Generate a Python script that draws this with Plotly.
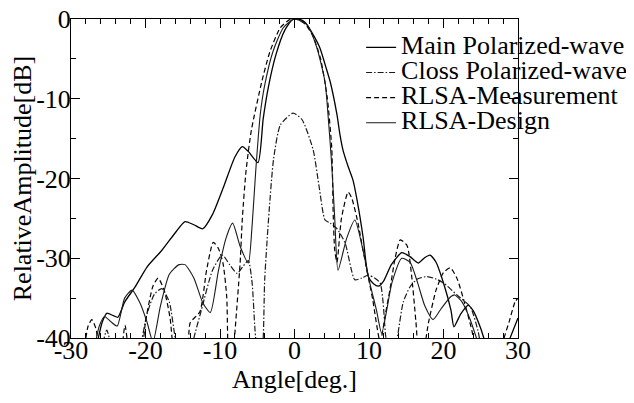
import plotly.graph_objects as go

# ---- data ----
main_x = [-26.8, -25.8, -25.2, -24.3, -23.7, -22.8, -21.4, -19.8, -17.8, -16.0,
          -14.7, -13.5, -12.3, -11.0, -9.5, -8.0, -7.0, -6.2, -4.9, -4.2,
          -3.5, -2.5, -1.3, -0.3, 0.5, 1.4, 2.4, 3.4, 4.2, 4.8,
          5.7, 6.1, 6.5, 7.2, 7.85, 8.4, 9.2, 9.9, 10.6, 11.3,
          12.0, 13.0, 14.4, 15.5, 16.6, 17.5, 18.2, 19.0, 20.0, 21.0,
          21.4, 22.3, 23.3, 24.0, 25.0, 25.6, 26.5, 27.5, 28.5, 30.0]
main_y = [-42, -38, -36.9, -37.2, -37.4, -35.5, -33.6, -31.1, -29.0, -26.8,
          -25.4, -25.8, -26.3, -24.5, -21.0, -17.3, -16.0, -16.6, -18.0, -12.5,
          -8.5, -4.5, -1.4, -0.1, 0.0, -0.4, -1.8, -3.6, -6.0, -7.9,
          -12.0, -14.5, -16.4, -18.5, -20.2, -22.7, -27.3, -32.3, -33.2, -33.5,
          -32.8, -30.8, -29.3, -29.8, -30.6, -29.9, -29.6, -30.5, -33.1, -36.5,
          -38.6, -37.0, -35.9, -36.6, -38.8, -40.5, -42, -43, -41, -37.5]

cross_x = [-26.0, -25.2, -24.4, -23.5, -21.0, -19.8, -18.8, -17.8, -16.8, -16.0,
           -14.5, -13.5, -12.5, -11.0, -9.7, -8.7, -7.7, -6.9, -6.2, -5.7,
           -5.3, -4.7, -4.2, -4.0, -3.4, -2.8, -1.9, -0.2, 1.0, 2.5,
           3.3, 4.1, 4.8, 5.7, 6.8, 8.1, 9.0, 9.9, 10.8, 11.5,
           11.9, 12.2, 13.0, 13.9, 14.6, 15.5, 16.5, 17.8, 19.0, 20.0,
           21.8, 23.6, 24.6, 25.2]
cross_y = [-42, -39.0, -42, -45, -42, -37.0, -34.5, -33.8, -35.5, -40.0,
           -45, -40.0, -36.5, -31.5, -29.6, -30.8, -31.9, -31.0, -30.3, -33.0,
           -39.0, -45, -40.0, -32.7, -24.0, -17.5, -13.3, -11.8, -12.6, -16.4,
           -21.0, -25.2, -25.6, -26.3, -28.1, -32.7, -32.5, -32.1, -32.5, -33.1,
           -35.6, -39.4, -45, -39.4, -35.5, -33.6, -32.6, -32.3, -32.6, -33.1,
           -34.6, -36.1, -39.0, -42]

meas_x = [-28.3, -27.7, -27.2, -26.6, -26.3, -25.0, -23.3, -22.75, -22.2, -21.0,
          -20.0, -19.0, -18.3, -17.5, -16.7, -16.2, -15.0, -14.3, -14.0, -12.7,
          -11.8, -10.9, -10.2, -9.6, -9.1, -8.9, -8.4, -8.2, -7.3, -7.0,
          -6.5, -5.8, -4.4, -3.3, -1.9, -0.5, 0.5, 1.5, 2.5, 3.5,
          4.4, 5.0, 5.2, 5.4, 5.7, 6.3, 7.2, 7.7, 8.5, 9.2,
          10.5, 11.5, 12.2, 12.8, 13.5, 14.2, 15.1, 15.7, 16.3, 16.6,
          17.2, 18.0, 19.0, 20.0, 20.9, 21.8, 22.8, 23.8, 24.5, 27.5,
          28.0, 28.8, 29.6, 30.0]
meas_y = [-42, -38.5, -37.7, -39.0, -42, -46, -42, -38.4, -42, -46,
          -38.0, -33.5, -32.5, -34.0, -37.5, -42, -46, -42, -38.1, -36.7,
          -31.5, -28.0, -28.8, -30.6, -34.8, -42, -46, -42, -30.6, -25.0,
          -19.0, -14.0, -7.9, -4.1, -1.1, 0.0, -0.1, -0.7, -2.2, -5.0,
          -9.9, -16.2, -24.6, -29.0, -30.5, -25.0, -21.7, -22.5, -25.5, -29.0,
          -35.2, -40.5, -37.0, -34.0, -30.0, -27.7, -28.4, -32.0, -38.0, -41.0,
          -42, -38.0, -34.0, -31.8, -31.2, -32.5, -35.5, -39.0, -42, -46,
          -40.5, -38.0, -35.5, -35.0]

design_x = [-27.0, -26.2, -25.5, -24.6, -23.8, -22.8, -21.8, -20.8, -19.8, -19.0,
            -18.0, -16.8, -15.5, -14.7, -13.5, -12.3, -11.3, -10.2, -9.2, -8.3,
            -7.3, -6.2, -5.7, -5.2, -4.6, -4.0, -2.9, -1.5, 0.0, 1.7,
            3.0, 4.1, 4.5, 5.0, 5.4, 5.84, 7.0, 8.1, 9.2, 10.1,
            11.0, 11.7, 13.1, 14.4, 15.5, 16.5, 17.5, 18.6, 19.7, 21.0,
            21.5, 22.5, 23.5, 24.6]
design_y = [-42, -38.5, -37.3, -38.0, -38.5, -35.0, -34.0, -35.5, -38.0, -40.5,
            -36.0, -32.0, -30.8, -30.8, -32.5, -35.6, -36.8, -31.5, -27.5, -25.6,
            -28.5, -30.6, -26.0, -19.0, -12.0, -8.3, -4.1, -1.1, 0.0, -0.75,
            -3.6, -7.9, -12.0, -18.3, -25.0, -31.5, -27.5, -25.2, -29.0, -33.1,
            -36.5, -39.4, -33.0, -30.0, -30.5, -33.0, -36.0, -37.7, -36.3, -34.8,
            -34.6, -35.5, -37.5, -40.5]

series_names = ["Main Polarized-wave", "Closs Polarized-wave",
                "RLSA-Measurement", "RLSA-Design"]

x_tickvals = [-30, -20, -10, 0, 10, 20, 30]
x_ticktext = ["-30", "-20", "-10", "0", "10", "20", "30"]
y_tickvals = [-40, -30, -20, -10, 0]
y_ticktext = ["-40", "-30", "-20", "-10", "0"]

FONT = "Liberation Serif, Times New Roman, serif"

def lbl(s):
    return '<span style="font-size:26px">' + s + '</span>'

fig = go.Figure()
fig.add_trace(go.Scatter(x=main_x, y=main_y, mode="lines", name=lbl(series_names[0]),
                         line=dict(color="#000000", width=1.3, shape="spline", smoothing=0.6)))
fig.add_trace(go.Scatter(x=cross_x, y=cross_y, mode="lines", name=lbl(series_names[1]),
                         line=dict(color="#1a1a1a", width=1.2, dash="6px,2px,1.5px,2px",
                                   shape="spline", smoothing=0.6)))
fig.add_trace(go.Scatter(x=meas_x, y=meas_y, mode="lines", name=lbl(series_names[2]),
                         line=dict(color="#000000", width=1.2, dash="5px,3px",
                                   shape="spline", smoothing=0.6)))
fig.add_trace(go.Scatter(x=design_x, y=design_y, mode="lines", name=lbl(series_names[3]),
                         line=dict(color="#1a1a1a", width=1.1, shape="spline", smoothing=0.6)))

axis_common = dict(showline=True, linecolor="black", linewidth=1, mirror="allticks",
                   ticks="inside", tickcolor="black", tickwidth=1, ticklen=9,
                   showgrid=False, zeroline=False, ticklabeloverflow="allow",
                   tickfont=dict(family=FONT, size=26, color="black"))

fig.update_xaxes(range=[-30, 30], tickmode="array", tickvals=x_tickvals, ticktext=x_ticktext,
                 minor=dict(dtick=2, ticks="inside", ticklen=5, tickcolor="black", tickwidth=1),
                 ticklabelstandoff=-11,
                 title=dict(text="Angle[deg.]", font=dict(family=FONT, size=26, color="black"),
                            standoff=2),
                 **axis_common)
fig.update_yaxes(range=[-40, 0], tickmode="array", tickvals=y_tickvals, ticktext=y_ticktext,
                 minor=dict(dtick=5, ticks="inside", ticklen=5, tickcolor="black", tickwidth=1),
                 ticklabelstandoff=-6,
                 title=dict(text="RelativeAmplitude[dB]", font=dict(family=FONT, size=26, color="black"),
                            standoff=2),
                 **axis_common)

# the page body adds an 8px offset, so margins are reduced by 8px on left/top
fig.update_layout(
    width=634, height=403,
    margin=dict(l=63, r=124, t=11, b=73, autoexpand=False),
    plot_bgcolor="white", paper_bgcolor="white",
    font=dict(family=FONT, color="black"),
    legend=dict(x=0.649, y=0.966, xanchor="left", yanchor="top",
                bgcolor="rgba(0,0,0,0)", borderwidth=0,
                font=dict(family=FONT, size=17, color="black"),
                tracegroupgap=0),
    showlegend=True,
)

fig.write_html("out.html")
